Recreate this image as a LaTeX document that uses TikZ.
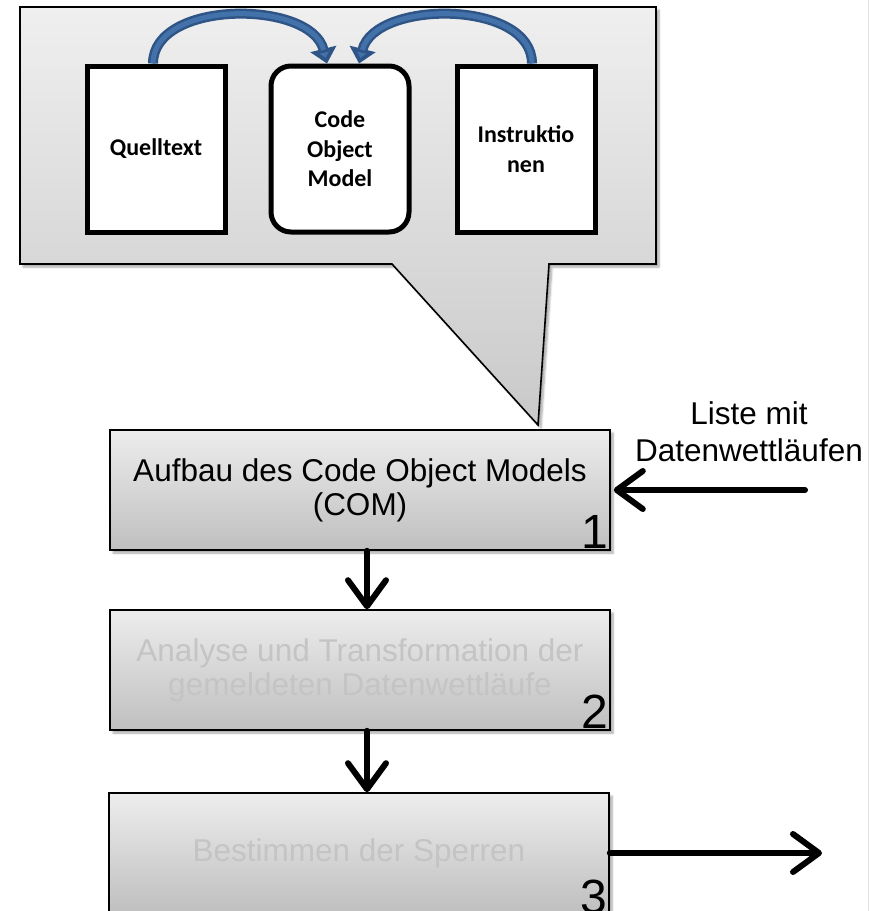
\documentclass[tikz,border=0pt]{standalone}
\usepackage{fontspec}
\setmainfont{Liberation Sans}
\newfontfamily\labelfont{Carlito}
\usetikzlibrary{arrows.meta,shadows.blur}

\definecolor{arcblue}{HTML}{4372AA}
\definecolor{arcedge}{HTML}{2F5486}
\definecolor{boxtop}{HTML}{EDEDED}
\definecolor{boxbottom}{HTML}{BFBFBF}
\definecolor{calltop}{HTML}{EFEFEF}
\definecolor{callbottom}{HTML}{C9C9C9}
\definecolor{fadedtext}{HTML}{C4C4C4}
\definecolor{edgeline}{HTML}{E2E2E2}

\tikzset{
  softshadow/.style={blur shadow={shadow xshift=3pt, shadow yshift=-3pt,
      shadow blur steps=6, shadow opacity=35}},
  stage/.style={draw=black, line width=1.6pt, minimum width=500pt,
      minimum height=120pt, align=center, inner sep=0pt,
      top color=boxtop, bottom color=boxbottom, softshadow,
      font=\fontsize{31.5}{34}\selectfont},
  stagenum/.style={anchor=south east, inner sep=2pt,
      font=\fontsize{48}{48}\selectfont},
  docbox/.style={draw=black, line width=5pt, fill=white,
      minimum width=138pt, minimum height=166pt, align=center, inner sep=0pt,
      font=\labelfont\bfseries\fontsize{24}{29.5}\selectfont},
  flowarrow/.style={line width=6pt, line cap=round,
      -{Straight Barb[length=26pt, width=38pt, line width=6pt, line cap=round, round]}},
  bluearc/.style={draw=arcedge, line width=10pt,
      -{Triangle[length=15pt, width=26pt, fill=arcblue]}},
  bluecore/.style={draw=arcblue, line width=5pt, shorten >=14pt},
}

\begin{document}
\begin{tikzpicture}[x=1pt, y=-1pt]
\useasboundingbox (0,0) rectangle (869,911);

% thin page edge on the right
\draw[edgeline, line width=1pt] (868,0) -- (868,911);

% speech-bubble callout with its pointer
\path[draw=black, line width=1.6pt, top color=calltop, bottom color=callbottom,
      softshadow]
  (20,7) -- (656,7) -- (656,264) -- (549,264) -- (538,425) -- (392,264)
  -- (20,264) -- cycle;

% the three documents inside the callout
\node[docbox] (src) at (156,149) {Quelltext};
\node[docbox, rounded corners=20pt] (com) at (340,149) {Code\\Object\\Model};
\node[docbox] (ins) at (526,149) {Instruktio\\nen};

% curved arrows feeding the model: dark rim, lighter core
\draw[bluearc] ([xshift=-3pt]src.north) .. controls +(0,-64) and +(-16,-64)
  .. ([xshift=-13pt]com.north);
\draw[bluecore] ([xshift=-3pt]src.north) .. controls +(0,-64) and +(-16,-64)
  .. ([xshift=-13pt]com.north);
\draw[bluearc] ([xshift=6pt]ins.north) .. controls +(0,-64) and +(16,-64)
  .. ([xshift=19pt]com.north);
\draw[bluecore] ([xshift=6pt]ins.north) .. controls +(0,-64) and +(16,-64)
  .. ([xshift=19pt]com.north);

% process stages
\node[stage] (s1) at (360,490) {Aufbau des Code Object Models\\(COM)};
\node[stagenum] (n1) at (s1.south east) {1};

\node[stage, text=fadedtext] (s2) at (360,670)
  {Analyse und Transformation der\\gemeldeten Datenwettläufe};
\node[stagenum] (n2) at (s2.south east) {2};

\node[stage, text=fadedtext] (s3) at (359,853) {Bestimmen der Sperren};
\node[stagenum] (n3) at ([yshift=-2pt]s3.south east) {3};

% input list
\node[align=center, font=\fontsize{31.5}{37}\selectfont] (lst) at (749,432)
  {Liste mit\\Datenwettläufen};
\coordinate (inp) at (805,490);
\coordinate (outp) at (822,853);

% connectors
\draw[flowarrow] (inp) -- ([xshift=3pt]s1.east);
\draw[flowarrow] ([xshift=7pt]s1.south) -- ([xshift=7pt]s2.north);
\draw[flowarrow] ([xshift=7pt]s2.south) -- ([xshift=8pt]s3.north);
\draw[flowarrow] (s3.east) -- (outp);
\end{tikzpicture}
\end{document}
